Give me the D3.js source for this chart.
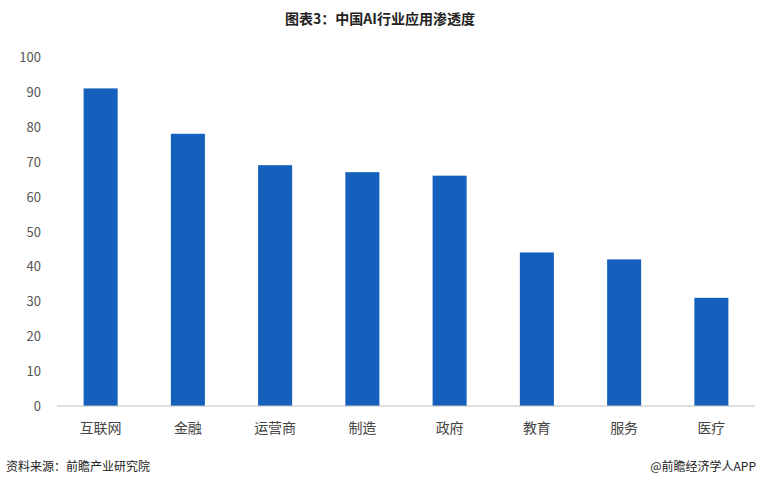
<!DOCTYPE html>
<html><head><meta charset="utf-8">
<script src="https://cdn.jsdelivr.net/npm/d3@7"></script>
<style>body{margin:0;background:#fff;font-family:"Noto Sans CJK SC","Noto Sans",sans-serif}</style>
</head><body><div id="main"></div>
<script>
var categories = ['互联网', '金融', '运营商', '制造', '政府', '教育', '服务', '医疗'];
var values = [91, 78, 69, 67, 66, 44, 42, 31];
var yTicks = [0, 10, 20, 30, 40, 50, 60, 70, 80, 90, 100];

var svg = d3.select('#main').append('svg').attr('width', 760).attr('height', 488);

var x = d3.scaleBand().domain(categories).range([57, 755]).paddingInner(0.61).paddingOuter(0.305);
var y = d3.scaleLinear().domain([0, 100]).range([406, 57]);

svg.append('text').attr('x', 380).attr('y', 24).attr('text-anchor', 'middle')
  .attr('font-size', 14).attr('font-weight', 'bold').attr('fill', '#222').text('图表3：中国AI行业应用渗透度');

svg.selectAll('.ytick').data(yTicks).enter().append('text')
  .attr('x', 41).attr('y', function(d) { return y(d) + 5; })
  .attr('text-anchor', 'end').attr('font-size', 13).attr('fill', '#555').text(function(d) { return d; });

svg.selectAll('.bar').data(values).enter().append('rect')
  .attr('x', function(d, i) { return x(categories[i]); })
  .attr('y', function(d) { return y(d); })
  .attr('width', x.bandwidth())
  .attr('height', function(d) { return y(0) - y(d); })
  .attr('fill', '#1560bd');

svg.append('line').attr('x1', 57).attr('x2', 755).attr('y1', y(0)).attr('y2', y(0))
  .attr('stroke', '#bfbfbf');

svg.selectAll('.xl').data(categories).enter().append('text')
  .attr('x', function(d) { return x(d) + x.bandwidth() / 2; }).attr('y', 433)
  .attr('text-anchor', 'middle').attr('font-size', 14).attr('fill', '#444').text(function(d) { return d; });

svg.append('text').attr('x', 6).attr('y', 471).attr('font-size', 12).attr('fill', '#222').text('资料来源：前瞻产业研究院');
svg.append('text').attr('x', 756).attr('y', 471).attr('text-anchor', 'end').attr('font-size', 12).attr('fill', '#222').text('@前瞻经济学人APP');
</script></body></html>
